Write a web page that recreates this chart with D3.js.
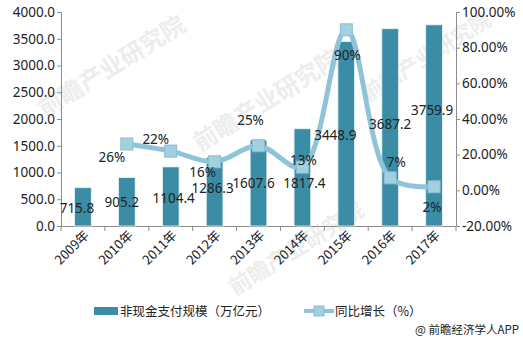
<!DOCTYPE html>
<html>
<head>
<meta charset="utf-8">
<script src="https://cdn.jsdelivr.net/npm/d3@7/dist/d3.min.js"></script>
<style>
  html, body { margin: 0; padding: 0; background: #fff; }
  svg { display: block; font-family: "Noto Sans", "Noto Sans CJK SC", sans-serif; }
</style>
</head>
<body>
<svg id="chart" width="523" height="340"></svg>
<script>
// Non-cash payment volume (trillion yuan) and year-over-year growth
const years = ["2009年", "2010年", "2011年", "2012年", "2013年", "2014年", "2015年", "2016年", "2017年"];
const volume = [715.8, 905.2, 1104.4, 1286.3, 1607.6, 1817.4, 3448.9, 3687.2, 3759.9];
const growthYears = ["2010年", "2011年", "2012年", "2013年", "2014年", "2015年", "2016年", "2017年"];
const growth = [26, 22, 16, 25, 13, 90, 7, 2];
const leftTicks = [0, 500, 1000, 1500, 2000, 2500, 3000, 3500, 4000];
const rightTicks = [-20, 0, 20, 40, 60, 80, 100];
const seriesNames = ["非现金支付规模（万亿元）", "同比增长（%）"];

// label nudges (px) from each mark's anchor to the label's centre
const barLabelNudge = [[-6, 20], [-5, 24], [3, 31], [-2, 31], [-5, 43], [2, 54], [-11, 94], [0, 95], [-2, 85]];
const lineLabelNudge = [[-15, 13], [-15, -12], [-12, 10], [-8, -26], [1, -7], [1, 25], [6, -16], [-2, 20]];

const svg = d3.select("#chart");
const m = { left: 61, right: 456, top: 12, bottom: 226 };

const x = d3.scaleBand().domain(years).range([m.left, m.right]).paddingInner(0.62).paddingOuter(0.31);
const xb = d3.scaleBand().domain(years).range([m.left, m.right]);
const yL = d3.scaleLinear().domain([0, 4000]).range([m.bottom, m.top]);
const yR = d3.scaleLinear().domain([-20, 100]).range([m.bottom, m.top]);
const cx = d => xb(d) + xb.bandwidth() / 2;

// faint watermark text
const wm = svg.append("g").attr("fill", "#ededed").attr("font-family", "Noto Sans CJK SC")
  .attr("font-weight", "bold");
[[45, 118, 24], [200, 152, 24], [235, 296, 22], [368, 102, 21]].forEach(([a, b, s]) => {
  wm.append("text").attr("font-size", s)
    .attr("transform", `translate(${a},${b}) rotate(-32)`).text("前瞻产业研究院");
});

const axisColor = "#8c8c8c";
const textColor = "#222";

// left axis
const gl = svg.append("g").attr("transform", `translate(${m.left},0)`)
  .call(d3.axisLeft(yL).tickValues(leftTicks).tickSize(4).tickFormat(d3.format(".1f")));
// right axis
const gr = svg.append("g").attr("transform", `translate(${m.right},0)`)
  .call(d3.axisRight(yR).tickValues(rightTicks).tickSize(4).tickFormat(d => d.toFixed(2) + "%"));
// bottom axis
const gb = svg.append("g").attr("transform", `translate(0,${m.bottom})`)
  .call(d3.axisBottom(xb).tickSize(0).tickFormat(""));
gb.selectAll(".tick").remove();
gb.selectAll(".bt").data(d3.range(years.length + 1)).join("line")
  .attr("x1", i => m.left + i * xb.bandwidth()).attr("x2", i => m.left + i * xb.bandwidth())
  .attr("y1", 0).attr("y2", 5).attr("stroke", axisColor);

[gl, gr, gb].forEach(g => {
  g.select(".domain").attr("stroke", axisColor);
  g.selectAll(".tick line").attr("stroke", axisColor);
  g.selectAll(".tick text").attr("fill", textColor).attr("font-size", 13.5)
    .attr("font-family", "Noto Sans, sans-serif");
});
gl.selectAll(".tick text").attr("x", -6);
gr.selectAll(".tick text").attr("x", 6);

// rotated year labels
svg.append("g").selectAll("text").data(years).join("text")
  .attr("transform", d => `translate(${cx(d) + 7},${m.bottom + 10}) rotate(-45)`)
  .attr("text-anchor", "end").attr("font-size", 13).attr("fill", textColor)
  .attr("font-family", "Noto Sans CJK SC").text(d => d);

// bars
svg.append("g").selectAll("rect").data(volume).join("rect")
  .attr("x", (d, i) => x(years[i])).attr("width", x.bandwidth())
  .attr("y", d => yL(d)).attr("height", d => yL(0) - yL(d))
  .attr("fill", "#3a8da5").attr("stroke", "#e8f3f6").attr("stroke-width", 0.8);

// growth line
const line = d3.line()
  .x((d, i) => cx(growthYears[i])).y(d => yR(d))
  .curve(d3.curveCatmullRom.alpha(0.5));
svg.append("path").datum(growth).attr("d", line)
  .attr("fill", "none").attr("stroke", "#8fc4d8").attr("stroke-width", 5).attr("stroke-linecap", "round");

// square markers
svg.append("g").selectAll("rect").data(growth).join("rect")
  .attr("x", (d, i) => cx(growthYears[i]) - 6).attr("y", d => yR(d) - 6)
  .attr("width", 12).attr("height", 12)
  .attr("fill", "#a3d0e1").attr("stroke", "#8bbdd1").attr("stroke-width", 1);

// bar value labels
svg.append("g").selectAll("text").data(volume).join("text")
  .attr("x", (d, i) => cx(years[i]) + barLabelNudge[i][0])
  .attr("y", (d, i) => yL(d) + barLabelNudge[i][1] + 5)
  .attr("text-anchor", "middle").attr("font-size", 13.5).attr("fill", textColor)
  .text(d => d.toFixed(1));

// growth labels
svg.append("g").selectAll("text").data(growth).join("text")
  .attr("x", (d, i) => cx(growthYears[i]) + lineLabelNudge[i][0])
  .attr("y", (d, i) => yR(d) + lineLabelNudge[i][1] + 5)
  .attr("text-anchor", "middle").attr("font-size", 13.5).attr("fill", textColor)
  .text(d => d + "%");

// legend
const lg = svg.append("g").attr("font-family", "Noto Sans CJK SC").attr("font-size", 12.5).attr("fill", textColor);
lg.append("rect").attr("x", 94).attr("y", 307).attr("width", 24).attr("height", 8).attr("fill", "#3a8da5");
lg.append("text").attr("x", 120).attr("y", 316).text(seriesNames[0]);
lg.append("line").attr("x1", 304).attr("x2", 334).attr("y1", 311).attr("y2", 311)
  .attr("stroke", "#8fc4d8").attr("stroke-width", 4);
lg.append("rect").attr("x", 314).attr("y", 306).attr("width", 10).attr("height", 10)
  .attr("fill", "#a3d0e1").attr("stroke", "#8bbdd1");
lg.append("text").attr("x", 335).attr("y", 316).text(seriesNames[1]);

// source credit
svg.append("text").attr("x", 519).attr("y", 334).attr("text-anchor", "end")
  .attr("font-family", "Noto Sans CJK SC").attr("font-size", 11.5).attr("fill", "#222")
  .text("@ 前瞻经济学人APP");
</script>
</body>
</html>
